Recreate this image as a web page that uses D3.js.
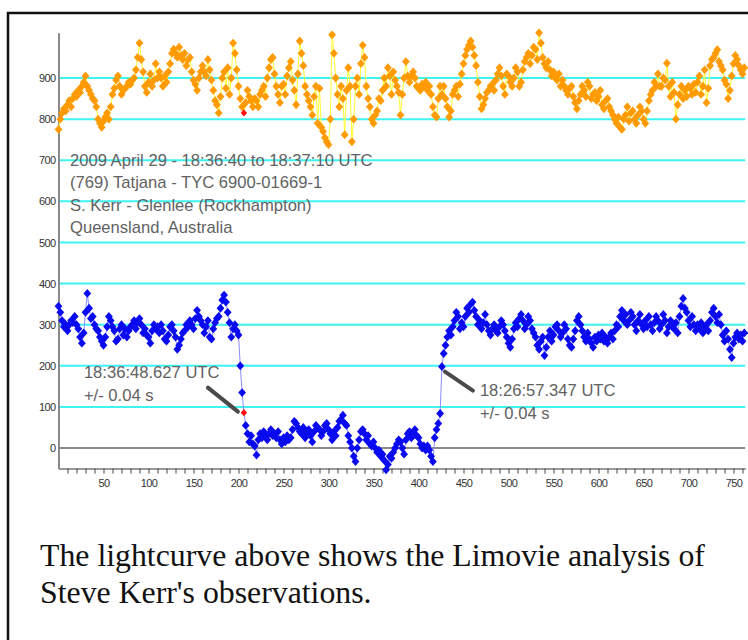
<!DOCTYPE html>
<html>
<head>
<meta charset="utf-8">
<script src="https://cdn.jsdelivr.net/npm/d3@7"></script>
<style>
  html, body { margin: 0; padding: 0; background: #fff; }
  svg { display: block; }
</style>
</head>
<body>
<svg id="chart" width="748" height="640"></svg>
<script>
// Limovie lightcurve: comparison star (orange) and occulted target (blue),
// one value every second frame.
const frameStep = 2;

const comparisonFlux = [
  775, 800, 815, 825, 820,  835, 845, 830, 850, 860,
  855, 870, 865, 880, 890,  905, 880, 870, 860, 850,
  845, 830, 800, 790, 780,  795, 805, 815, 800, 830,
  860, 875, 895, 905, 880,  860, 870, 875, 880, 890,
  885, 895, 900, 920, 950,  985, 945, 915, 880, 865,
  890, 910, 880, 895, 935,  900, 915, 900, 880, 905,
  890, 915, 935, 960, 970,  960, 950, 975, 955, 945,
  960, 930, 945, 950, 915,  895, 885, 870, 900, 915,
  930, 915, 905, 945, 920,  895, 870, 845, 835, 815,
  855, 900, 915, 875, 925,  860, 900, 985, 960, 920,
  880, 850, 830, 815, 840,  870, 855, 845, 830, 850,
  845, 830, 860, 870, 880,  855, 900, 925, 945, 950,
  910, 880, 860, 840, 880,  885, 860, 905, 925, 940,
  895, 870, 835, 910, 990,  960, 930, 880, 860, 845,
  830, 810, 855, 880, 790,  875, 780, 770, 755, 745,
  738, 800, 1005, 960, 900, 860, 830, 880, 850, 762,
  870, 925, 880, 745, 800,  880, 900, 860, 935, 980,
  950, 880, 850, 830, 800,  790, 810, 820, 850, 845,
  870, 900, 880, 925, 905,  860, 915, 895, 880, 865,
  810, 860, 900, 940, 905,  890, 905, 915, 900, 880,
  875, 870, 885, 880, 890,  870, 880, 860, 830, 810,
  805, 850, 880, 860, 880,  850, 830, 805, 820, 860,
  870, 880, 855, 885, 910,  935, 955, 970, 980, 990,
  975, 955, 930, 890, 855,  825, 835, 850, 865, 870,
  880, 885, 870, 895, 910,  925, 905, 880, 860, 910,
  905, 890, 880, 900, 925,  915, 880, 890, 920, 940,
  950, 960, 935, 955, 975,  970, 945, 1010, 985, 950,
  935, 925, 940, 920, 905,  915, 900, 895, 910, 880,
  895, 880, 870, 860, 875,  880, 855, 840, 825, 845,
  860, 880, 870, 855, 890,  880, 850, 860, 865, 845,
  855, 870, 835, 825, 845,  850, 830, 820, 810, 800,
  790, 805, 780, 775, 800,  810, 830, 795, 815, 820,
  800, 790, 810, 830, 820,  800, 790, 820, 845, 860,
  870, 890, 880, 910, 880,  880, 900, 895, 936, 880,
  855, 890, 865, 800, 835,  860, 880, 850, 870, 855,
  880, 875, 860, 885, 865,  890, 905, 860, 880, 920,
  840, 875, 930, 945, 950,  960, 969, 940, 930, 920,
  895, 885, 850, 870, 905,  935, 955, 945, 930, 920,
  910, 925
];

const targetFlux = [
  345, 330, 310, 295, 300,  285, 300, 310, 305, 320,
  300, 290, 270, 255, 280,  330, 376, 340, 315, 320,
  300, 290, 285, 270, 260,  250, 270, 295, 320, 310,
  295, 285, 260, 265, 290,  300, 275, 290, 270, 285,
  295, 300, 310, 290, 305,  315, 300, 280, 290, 275,
  270, 255, 285, 300, 290,  295, 280, 300, 285, 265,
  260, 275, 295, 300, 285,  270, 240, 250, 265, 280,
  285, 300, 295, 310, 300,  290, 315, 335, 320, 310,
  300, 280, 295, 310, 270,  265, 290, 305, 315, 320,
  340, 360, 372, 355, 330,  305, 270, 290, 300, 285,
  275, 200, 135, 86, 55,    35, 15, 30, 10, 5,
  -17, 20, 35, 25, 40,      30, 20, 35, 45, 30,
  35, 25, 40, 20, 10,       25, 15, 30, 20, 25,
  45, 65, 60, 50, 40,       35, 50, 25, 40, 45,
  30, 15, 40, 55, 50,       45, 30, 40, 55, 60,
  45, 35, 20, 40, 30,       50, 65, 70, 80, 60,
  55, 30, 15, 0, -20,       -33, 0, 20, 40, 45,
  35, 20, 30, 10, 5,        15, 0, -10, -5, -20,
  -15, -30, -53, -40, -20,  -25, -10, 0, 10, 20,
  15, 0, -15, 20, 35,       40, 25, 30, 45, 30,
  25, 10, 0, 5, -5,         5, -5, -20, -33, 25,
  45, 60, 84, 198, 230,     250, 270, 285, 275, 295,
  310, 330, 320, 290, 305,  295, 320, 340, 330, 350,
  355, 335, 320, 300, 310,  290, 305, 325, 300, 285,
  275, 290, 300, 285, 280,  295, 310, 300, 285, 270,
  255, 245, 265, 290, 305,  295, 315, 325, 310, 290,
  300, 320, 310, 290, 280,  270, 250, 240, 260, 270,
  225, 245, 270, 285, 260,  275, 295, 300, 285, 270,
  280, 300, 290, 265, 250,  245, 265, 285, 310, 320,
  300, 285, 270, 260, 280,  265, 255, 245, 270, 260,
  275, 265, 280, 260, 270,  255, 270, 280, 265, 285,
  300, 295, 320, 335, 310,  325, 300, 310, 330, 320,
  300, 285, 310, 325, 300,  290, 310, 295, 320, 300,
  285, 305, 320, 310, 290,  300, 325, 310, 280, 295,
  310, 295, 290, 305, 280,  320, 345, 364, 340, 330,
  310, 295, 320, 300, 285,  300, 290, 305, 280, 295,
  300, 285, 310, 330, 340,  320, 305, 325, 300, 275,
  260, 285, 265, 240, 220,  255, 270, 280, 265, 275,
  260, 280
];

// Frame picked out in red (disappearance) and the reappearance frame.
const disappearFrame = 206;
const reappearFrame = 426;

const yTickValues = [0, 100, 200, 300, 400, 500, 600, 700, 800, 900];
const xTickValues = d3.range(10, 761, 10);
const xLabelStep = 50;

const headerLines = [
  "2009 April 29 - 18:36:40 to 18:37:10 UTC",
  "(769) Tatjana - TYC 6900-01669-1",
  "S. Kerr - Glenlee (Rockhampton)",
  "Queensland, Australia"
];
const disappearLabel = ["18:36:48.627 UTC", "+/- 0.04 s"];
const reappearLabel = ["18:26:57.347 UTC", "+/- 0.04 s"];
const captionLines = [
  "The lightcurve above shows the Limovie analysis of",
  "Steve Kerr's observations."
];

const svg = d3.select("#chart");
const sans = "'Liberation Sans', Arial, sans-serif";

// Page frame
svg.append("rect")
  .attr("x", 8).attr("y", 13).attr("width", 800).attr("height", 700)
  .attr("fill", "none").attr("stroke", "#111").attr("stroke-width", 2.5);

const x = d3.scaleLinear().domain([0, 763]).range([58.5, 745.2]);
const y = d3.scaleLinear().domain([-50, 1010]).range([468.6, 32.8]);

const comparison = comparisonFlux.map((v, i) => ({ f: i * frameStep, v }));
const target = targetFlux.map((v, i) => ({ f: i * frameStep, v }));

// Horizontal grid
svg.append("g").selectAll("line")
  .data(yTickValues.filter(d => d !== 0))
  .join("line")
  .attr("x1", x(0)).attr("x2", x.range()[1])
  .attr("y1", d => y(d)).attr("y2", d => y(d))
  .attr("stroke", "#3ff3f3").attr("stroke-width", 2);

// Zero level
svg.append("line")
  .attr("x1", x(0)).attr("x2", x.range()[1])
  .attr("y1", y(0)).attr("y2", y(0))
  .attr("stroke", "#8a8a8a").attr("stroke-width", 2);

// Axes
const yAxis = svg.append("g")
  .attr("transform", `translate(${x(0)},0)`)
  .call(d3.axisLeft(y).tickValues(yTickValues).tickSize(0).tickSizeOuter(0).tickPadding(3));
yAxis.select(".domain").attr("stroke", "#8a8a8a").attr("stroke-width", 2);
yAxis.selectAll("text")
  .attr("font-family", sans).attr("font-size", 11)
  .attr("letter-spacing", "-0.6").attr("fill", "#333");

const xAxis = svg.append("g")
  .attr("transform", `translate(0,${y(-50)})`)
  .call(d3.axisBottom(x).tickValues(xTickValues).tickSize(5).tickSizeOuter(0).tickPadding(6)
    .tickFormat(d => d % xLabelStep === 0 ? d : ""));
xAxis.select(".domain").attr("stroke", "#777").attr("stroke-width", 1.5);
xAxis.selectAll(".tick line").attr("stroke", "#444").attr("stroke-width", 1);
xAxis.selectAll("text")
  .attr("font-family", sans).attr("font-size", 11)
  .attr("letter-spacing", "-0.6").attr("fill", "#333");

// Connecting lines
const line = d3.line().x(d => x(d.f)).y(d => y(d.v));
svg.append("path").datum(comparison)
  .attr("d", line).attr("fill", "none")
  .attr("stroke", "#ffff30").attr("stroke-width", 1);
svg.append("path").datum(target)
  .attr("d", line).attr("fill", "none")
  .attr("stroke", "#8c8cff").attr("stroke-width", 1);

// Diamond markers
const diamond = "M0,-4.4L3.9,0L0,4.4L-3.9,0Z";
const smallDiamond = "M0,-3.6L3.2,0L0,3.6L-3.2,0Z";
function drawPoints(data, color, shape) {
  svg.append("g").selectAll("path")
    .data(data)
    .join("path")
    .attr("d", shape)
    .attr("transform", d => `translate(${x(d.f)},${y(d.v)})`)
    .attr("fill", color);
}
drawPoints(comparison.filter(d => d.f !== disappearFrame), "#ff9a00", diamond);
drawPoints(target.filter(d => d.f !== disappearFrame), "#0a0af0", diamond);
drawPoints(comparison.filter(d => d.f === disappearFrame), "#ff1010", smallDiamond);
drawPoints(target.filter(d => d.f === disappearFrame), "#ff1010", smallDiamond);

// Header block
svg.append("g").selectAll("text")
  .data(headerLines)
  .join("text")
  .attr("x", 70)
  .attr("y", (d, i) => 160 + i * 22.5)
  .attr("dominant-baseline", "central")
  .attr("font-family", sans).attr("font-size", 16.6)
  .attr("fill", "#626262")
  .text(d => d);

// Event annotations
const dPt = target.find(d => d.f === disappearFrame);
const rPt = target.find(d => d.f === reappearFrame);
const dx = x(dPt.f), dy = y(dPt.v);
const rx = x(rPt.f), ry = y(rPt.v);

svg.append("line")
  .attr("x1", dx - 36).attr("y1", dy - 25)
  .attr("x2", dx - 6).attr("y2", dy - 1)
  .attr("stroke", "#4a4a4a").attr("stroke-width", 4).attr("stroke-linecap", "round");
svg.append("line")
  .attr("x1", rx + 3).attr("y1", ry + 5)
  .attr("x2", rx + 31).attr("y2", ry + 24)
  .attr("stroke", "#4a4a4a").attr("stroke-width", 4).attr("stroke-linecap", "round");

function label(lines, lx, ly) {
  svg.append("g").selectAll("text")
    .data(lines)
    .join("text")
    .attr("x", lx)
    .attr("y", (d, i) => ly + i * 22.5)
    .attr("dominant-baseline", "central")
    .attr("font-family", sans).attr("font-size", 16.6)
    .attr("fill", "#626262")
    .text(d => d);
}
label(disappearLabel, dx - 160, dy - 40);
label(reappearLabel, rx + 38, ry + 24);

// Caption
svg.append("g").selectAll("text")
  .data(captionLines)
  .join("text")
  .attr("x", 40)
  .attr("y", (d, i) => 566 + i * 37)
  .attr("font-family", "'Liberation Serif', 'Times New Roman', serif")
  .attr("font-size", 31.8)
  .attr("fill", "#111")
  .text(d => d);
</script>
</body>
</html>
